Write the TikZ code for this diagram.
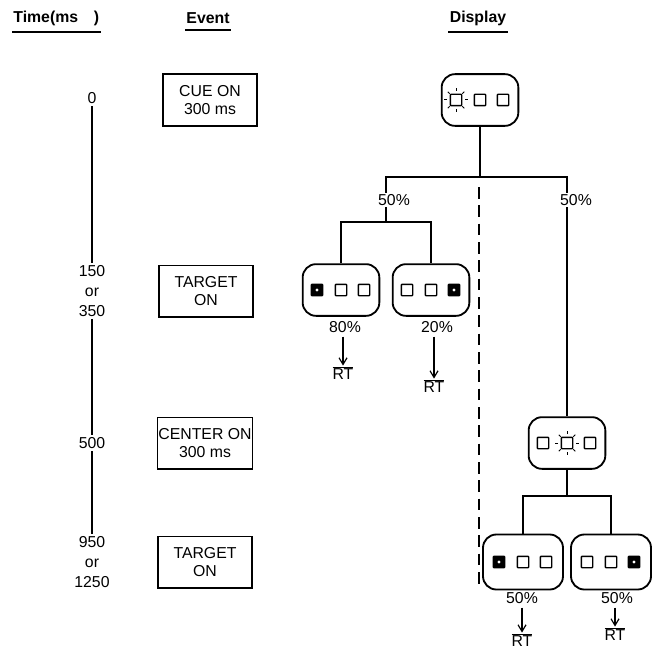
\documentclass[tikz,border=0pt]{standalone}
\usepackage{fontspec}
\setmainfont{Liberation Sans}
\usetikzlibrary{arrows.meta}
\newcommand{\rt}{\ensuremath{\overline{\hbox{RT}}}}

\begin{document}
\begin{tikzpicture}[
  x=0.3mm, y=-0.3mm,
  font=\fontsize{13.5}{15.5}\selectfont,
  head/.style={font=\fontsize{13.5}{15}\selectfont\bfseries, inner sep=1pt},
  uline/.style={line width=0.5mm},
  tick/.style={align=center, inner sep=2pt, font=\fontsize{13.5}{16.8}\selectfont},
  axis/.style={line width=0.35mm},
  event/.style={draw, line width=0.4mm, minimum width=28.2mm,
                minimum height=15.5mm, align=center, inner sep=1pt},
  panel/.style={draw, line width=0.55mm, rounded corners=4mm,
                minimum width=23mm, minimum height=15.5mm},
  lampoff/.style={draw, line width=0.4mm, rounded corners=0.6pt,
                  minimum size=3.4mm, inner sep=0pt},
  lampon/.style={lampoff, fill=black, path picture={
      \fill[white] (path picture bounding box.center) circle (0.5mm);}},
  ray/.style={line width=0.3mm},
  link/.style={line width=0.45mm},
  pct/.style={fill=white, inner sep=1pt},
  arr/.style={-{Straight Barb[length=2mm, width=2.4mm]}, line width=0.35mm}
]
  \useasboundingbox (0,0) rectangle (654,651);

  %% Column heads
  \node[head, anchor=west] (htime) at (12,18) {Time(ms\quad)};
  \node[head] (hevent) at (208,18) {Event};
  \node[head] (hdisp)  at (478,18) {Display};
  \foreach \h in {htime,hevent,hdisp}
    \draw[uline] ([yshift=-1.5mm]\h.south west) -- ([yshift=-1.5mm]\h.south east);

  %% Time axis
  \node[tick] (t0) at (92,98)  {0};
  \node[tick] (t1) at (92,291) {150\\or\\350};
  \node[tick] (t2) at (92,443) {500};
  \node[tick] (t3) at (92,562) {950\\or\\1250};
  \draw[axis] (t0) -- (t1);
  \draw[axis] (t1) -- (t2);
  \draw[axis] (t2) -- (t3);

  %% Events
  \node[event] (ecue)  at (210,100) {CUE ON\\300 ms};
  \node[event] (etar1) at (206,291) {TARGET\\ON};
  \node[event] (ecen)  at (205,443) {CENTER ON\\300 ms};
  \node[event] (etar2) at (205,562) {TARGET\\ON};

  %% Displays
  \node[panel] (cue) at (480,100) {};
  \node[panel] (pl1) at (341,290) {};
  \node[panel] (pl2) at (431,290) {};
  \node[panel] (pc)  at (567,443) {};
  \node[panel, minimum width=24mm, minimum height=16.5mm] (pr1) at (523,562) {};
  \node[panel, minimum width=24mm, minimum height=16.5mm] (pr2) at (611,562) {};

  \foreach \p/\a/\b/\c in {cue/lampoff/lampoff/lampoff, pl1/lampon/lampoff/lampoff,
      pl2/lampoff/lampoff/lampon, pc/lampoff/lampoff/lampoff,
      pr1/lampon/lampoff/lampoff, pr2/lampoff/lampoff/lampon} {
    \node[\a] (\p-1) at ([xshift=-7.2mm]\p.center) {};
    \node[\b] (\p-2) at (\p.center) {};
    \node[\c] (\p-3) at ([xshift=6.9mm]\p.center) {};
  }
  \foreach \l in {cue-1, pc-2}
    \foreach \a in {0,45,...,315}
      \draw[ray] ([shift={(\a:2.7mm)}]\l.center) -- ([shift={(\a:3.5mm)}]\l.center);

  %% Tree
  \coordinate (fork)  at (480,177);
  \coordinate (lfork) at (386,222);
  \coordinate (rfork) at (567,496);
  \coordinate (dtop)  at (479,187);
  \coordinate (dbot)  at (479,588);
  \draw[link] (cue.south) -- (fork);
  \draw[link] (lfork) |- (fork) -| (pc.north);
  \draw[link] (pl1.north) |- (lfork) -| (pl2.north);
  \draw[link] (pc.south) -- (rfork);
  \draw[link] (pr1.north) |- (rfork) -| (pr2.north);
  \draw[link, dash pattern=on 3.5mm off 2mm] (dtop) -- (dbot);

  \node[pct] (plft) at (394,200) {50\%};
  \node[pct] (prgt) at (576,200) {50\%};

  %% Responses
  \node (p80)  at (345,327) {80\%};
  \node (p20)  at (437,327) {20\%};
  \node (p50a) at (522,598) {50\%};
  \node (p50b) at (617,598) {50\%};
  \node[inner sep=0.5pt] (rt1) at (343,373) {\rt};
  \node[inner sep=0.5pt] (rt2) at (434,386) {\rt};
  \node[inner sep=0.5pt] (rt3) at (522,640) {\rt};
  \node[inner sep=0.5pt] (rt4) at (615,634) {\rt};
  \draw[arr] (p80.south -| rt1.north) -- (rt1.north);
  \draw[arr] (p20.south -| rt2.north) -- (rt2.north);
  \draw[arr] (p50a.south -| rt3.north) -- (rt3.north);
  \draw[arr] (p50b.south -| rt4.north) -- (rt4.north);
\end{tikzpicture}
\end{document}
